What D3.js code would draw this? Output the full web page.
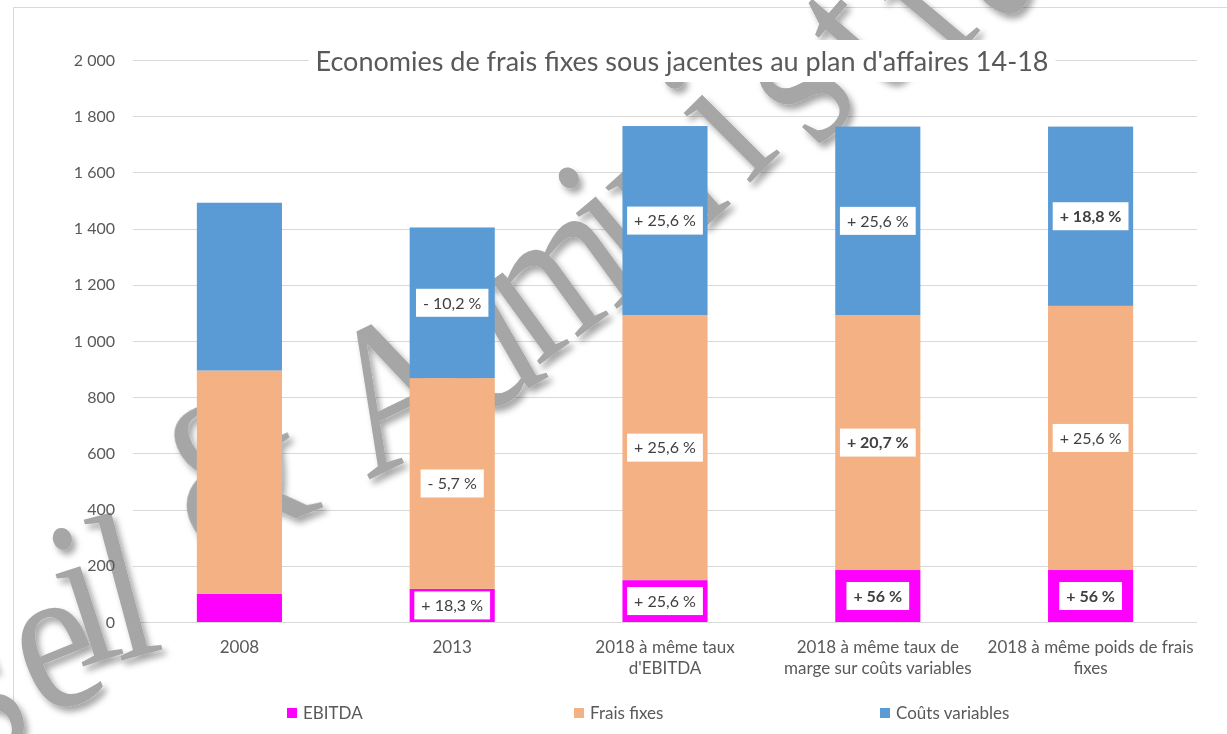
<!DOCTYPE html>
<html>
<head>
<meta charset="utf-8">
<script src="https://cdn.jsdelivr.net/npm/d3@7"></script>
<style>
  html, body { margin: 0; padding: 0; background: #fff; }
  svg { display: block; }
</style>
</head>
<body>
<svg id="chart" width="1227" height="734"></svg>
<script>
// ---------- DATA ----------
const categories = ["2008", "2013", "2018 à même taux d'EBITDA", "2018 à même taux de marge sur coûts variables", "2018 à même poids de frais fixes"];
const categoryLines = [["2008"], ["2013"], ["2018 à même taux", "d'EBITDA"], ["2018 à même taux de", "marge sur coûts variables"], ["2018 à même poids de frais", "fixes"]];
const seriesNames = ["EBITDA", "Frais fixes", "Coûts variables"];
const ebitda = [100, 118, 149, 185, 185];
const fraisFixes = [795, 750, 943, 907, 940];
const coutsVariables = [597, 536, 673, 671, 638];
const labelsEbitda = ["", "+ 18,3 %", "+ 25,6 %", "+ 56 %", "+ 56 %"];
const labelsFraisFixes = ["", "- 5,7 %", "+ 25,6 %", "+ 20,7 %", "+ 25,6 %"];
const labelsCouts = ["", "- 10,2 %", "+ 25,6 %", "+ 25,6 %", "+ 18,8 %"];
const boldEbitda = [false, false, false, true, true];
const boldFraisFixes = [false, false, false, true, false];
const boldCouts = [false, false, false, false, true];
const yTicks = [0, 200, 400, 600, 800, 1000, 1200, 1400, 1600, 1800, 2000];
const title = "Economies de frais fixes sous jacentes au plan d'affaires 14-18";
const colors = ["#ff00ff", "#f4b183", "#5b9bd5"];

// watermark "...seil & Administra..." (decoration): glyph, baseline-centre point, tilt
const wmChars = ["s", "e", "i", "l", "&", "A", "d", "m", "i", "n", "i", "s", "t", "r", "a"];
const wmX = [5, 77, 103, 142, 262, 426, 512, 593, 652, 700, 765, 840, 900, 972, 1030];
const wmY = [748, 703, 660, 655, 532, 452, 398, 326, 275, 232, 168, 125, 78, 40, -5];
const wmTilt = [22, 22, 18, 15, 22, 26, 30, 36, 40, 42, 45, 47, 49, 50, 52];

// ---------- SETUP ----------
const svg = d3.select("#chart");
const font = "Lato, 'Open Sans', sans-serif";
const axisColor = "#595959";

const x = d3.scaleBand().domain(categories).range([133, 1197]).paddingInner(0.6).paddingOuter(0.3);
const y = d3.scaleLinear().domain([0, 2000]).range([622, 60]);

// frame
svg.append("path").attr("d", "M13.5,734 V7.5 H1227").attr("fill", "none").attr("stroke", "#d9d9d9");

// gridlines
svg.append("g").selectAll("line").data(yTicks).join("line")
  .attr("x1", 133).attr("x2", 1197)
  .attr("y1", d => Math.round(y(d)) + 0.5).attr("y2", d => Math.round(y(d)) + 0.5)
  .attr("stroke", "#d9d9d9").attr("stroke-width", 1.2);

// watermark (behind bars)
const defs = svg.append("defs");
const f = defs.append("filter").attr("id", "shadow").attr("x", "-30%").attr("y", "-30%").attr("width", "160%").attr("height", "160%");
f.append("feDropShadow").attr("dx", 4).attr("dy", 5).attr("stdDeviation", 3).attr("flood-color", "#000").attr("flood-opacity", 0.35);
const wm = svg.append("g").attr("font-family", "'Liberation Serif', 'DejaVu Serif', serif").attr("font-size", 210)
  .attr("fill", "#a6a6a6").attr("filter", "url(#shadow)");
wm.selectAll("text").data(wmChars).join("text")
  .attr("transform", (c, i) => `translate(${wmX[i]},${wmY[i]}) rotate(${-wmTilt[i]}) scale(0.85,1)`)
  .attr("text-anchor", "middle")
  .text(c => c);

// y axis labels
const fr = d3.formatLocale({ decimal: ",", thousands: "\u00A0", grouping: [3], currency: ["", ""] });
const fmt = fr.format(",");
const yAxis = d3.axisLeft(y).tickValues(yTicks).tickSize(0).tickPadding(0).tickFormat(d => fmt(d).replace(/\u00A0/g, " "));
const ya = svg.append("g").attr("transform", "translate(115,0)").call(yAxis);
ya.select(".domain").remove();
ya.selectAll("text").attr("font-family", font).attr("font-size", 16).attr("fill", axisColor);

// stacked data
const rows = categories.map((c, i) => ({ cat: c, EBITDA: ebitda[i], "Frais fixes": fraisFixes[i], "Coûts variables": coutsVariables[i] }));
const stack = d3.stack().keys(seriesNames)(rows);
const labelSets = [labelsEbitda, labelsFraisFixes, labelsCouts];
const boldSets = [boldEbitda, boldFraisFixes, boldCouts];

const bars = svg.append("g");
stack.forEach((layer, si) => {
  bars.append("g").attr("fill", colors[si]).selectAll("rect").data(layer).join("rect")
    .attr("x", d => x(d.data.cat)).attr("width", x.bandwidth())
    .attr("y", d => y(d[1])).attr("height", d => y(d[0]) - y(d[1]));
});

// title with white background
const tg = svg.append("g");
const tbg = tg.append("rect").attr("fill", "#fff");
const tt = tg.append("text").attr("x", 682).attr("y", 71).attr("text-anchor", "middle")
  .attr("font-family", font).attr("font-size", 27).attr("fill", axisColor).text(title);
const tb = tt.node().getBBox();
tbg.attr("x", tb.x - 7).attr("y", 40).attr("width", tb.width + 14).attr("height", 42);

// data labels
const lg = svg.append("g");
stack.forEach((layer, si) => {
  layer.forEach((d, i) => {
    const lab = labelSets[si][i];
    if (!lab) return;
    const cx = x(d.data.cat) + x.bandwidth() / 2;
    const cy = (y(d[0]) + y(d[1])) / 2;
    const g = lg.append("g");
    const r = g.append("rect").attr("fill", "#fff");
    const t = g.append("text").attr("x", cx).attr("y", cy).attr("dy", "0.36em").attr("text-anchor", "middle")
      .attr("font-family", font).attr("font-size", 16).attr("font-weight", boldSets[si][i] ? "bold" : "normal")
      .attr("fill", "#404040").text(lab);
    const w = t.node().getComputedTextLength();
    r.attr("x", cx - w / 2 - 7).attr("y", cy - 14).attr("width", w + 14).attr("height", 28);
  });
});

// x axis labels
const xl = svg.append("g");
categories.forEach((c, i) => {
  const t = xl.append("text").attr("x", x(c) + x.bandwidth() / 2).attr("y", 653).attr("text-anchor", "middle")
    .attr("font-family", font).attr("font-size", 17).attr("fill", axisColor);
  categoryLines[i].forEach((ln, k) => {
    t.append("tspan").attr("x", x(c) + x.bandwidth() / 2).attr("dy", k === 0 ? 0 : 21).text(ln);
  });
});

// legend
const legendX = [287, 574, 880];
const leg = svg.append("g");
seriesNames.forEach((s, i) => {
  leg.append("rect").attr("x", legendX[i]).attr("y", 708).attr("width", 10).attr("height", 10).attr("fill", colors[i]);
  leg.append("text").attr("x", legendX[i] + 16).attr("y", 719).attr("font-family", font).attr("font-size", 17)
    .attr("fill", axisColor).text(s);
});
</script>
</body>
</html>
